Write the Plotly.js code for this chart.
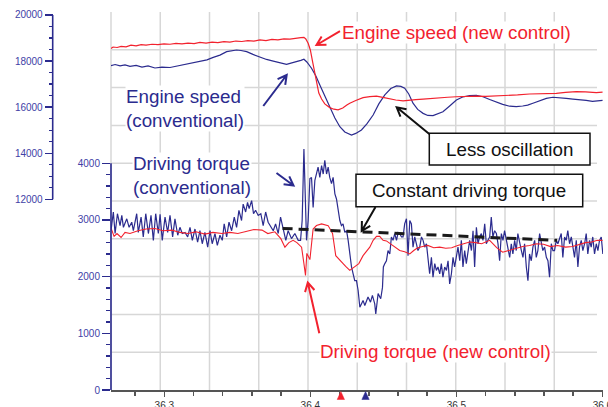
<!DOCTYPE html>
<html><head><meta charset="utf-8">
<script src="https://cdn.plot.ly/plotly-3.0.1.min.js"></script>
<style>html,body{margin:0;padding:0;background:#fff;overflow:hidden}#chart{width:608px;height:407px}</style>
</head><body><div id="chart"></div>
<script>
// ---------------- data ----------------
const speedNewTime = [36.2635,36.2649,36.2677,36.2704,36.2738,36.2772,36.2807,36.2841,36.2875,36.2916,36.2957,36.2998,36.3039,36.3080,36.3121,36.3162,36.3204,36.3244,36.3286,36.3327,36.3367,36.3408,36.3449,36.3490,36.3531,36.3572,36.3614,36.3655,36.3696,36.3737,36.3778,36.3819,36.3860,36.3901,36.3935,36.3956,36.3969,36.3985,36.4000,36.4017,36.4042,36.4058,36.4077,36.4099,36.4133,36.4161,36.4190,36.4222,36.4250,36.4270,36.4311,36.4361,36.4407,36.4453,36.4496,36.4544,36.4585,36.4635,36.4681,36.4722,36.4772,36.4817,36.4886,36.4940,36.5000,36.5064,36.5137,36.5200,36.5269,36.5342,36.5419,36.5501,36.5590,36.5684,36.5747,36.5821,36.5884,36.5958,36.6001];
const speedNew = [18550,18610,18590,18640,18620,18690,18660,18710,18690,18730,18710,18750,18730,18770,18750,18780,18760,18810,18780,18820,18800,18840,18820,18870,18850,18890,18870,18920,18890,18940,18920,18960,18950,19000,19020,19030,18960,18770,18480,17920,17010,16610,16350,16140,15980,15910,15880,15960,16090,16170,16290,16410,16460,16480,16420,16350,16310,16270,16310,16330,16350,16380,16400,16430,16450,16470,16480,16470,16480,16500,16530,16570,16580,16600,16640,16670,16660,16630,16650];

const speedConvTime = [36.2635,36.2663,36.2697,36.2731,36.2765,36.2807,36.2847,36.2889,36.2936,36.2984,36.3039,36.3094,36.3142,36.3190,36.3244,36.3292,36.3335,36.3381,36.3427,36.3456,36.3495,36.3525,36.3564,36.3607,36.3655,36.3700,36.3746,36.3791,36.3837,36.3873,36.3906,36.3935,36.3956,36.3976,36.4008,36.4038,36.4065,36.4099,36.4133,36.4168,36.4202,36.4236,36.4282,36.4311,36.4350,36.4387,36.4430,36.4469,36.4510,36.4551,36.4590,36.4620,36.4646,36.4674,36.4703,36.4735,36.4772,36.4804,36.4840,36.4872,36.4908,36.4954,36.5000,36.5043,36.5091,36.5137,36.5182,36.5228,36.5274,36.5317,36.5365,36.5410,36.5454,36.5488,36.5524,36.5570,36.5616,36.5661,36.5707,36.5752,36.5798,36.5843,36.5889,36.5932,36.5966,36.6001];
const speedConv = [17800,17850,17790,17830,17770,17810,17740,17790,17700,17740,17720,17790,17830,17900,17970,18050,18160,18260,18410,18440,18480,18460,18410,18290,18160,18070,18000,17920,17860,17920,17970,18030,18080,17960,17690,17350,16960,16480,15950,15530,15150,14920,14790,14860,15010,15270,15660,16140,16530,16810,16920,16900,16820,16570,16170,15900,15730,15640,15630,15700,15800,16050,16310,16440,16500,16510,16450,16330,16210,16120,16040,16020,16050,16090,16170,16290,16380,16430,16420,16380,16350,16330,16290,16250,16270,16290];

const torqueConvTime = [
36.2635,36.2651,36.2663,36.2679,36.2697,36.2709,36.2720,36.2743,36.2759,36.2777,
36.2788,36.2811,36.2822,36.2841,36.2856,36.2873,36.2891,36.2909,36.2925,36.2941,
36.2959,36.2971,36.2986,36.3005,36.3023,36.3039,36.3057,36.3073,36.3092,36.3107,
36.3123,36.3142,36.3160,36.3176,36.3192,36.3210,36.3228,36.3244,36.3260,36.3278,
36.3297,36.3313,36.3328,36.3347,36.3363,36.3381,36.3397,36.3410,36.3427,36.3443,
36.3461,36.3479,36.3495,36.3511,36.3529,36.3540,36.3557,36.3570,36.3581,36.3598,
36.3611,36.3625,36.3643,36.3661,36.3677,36.3694,36.3711,36.3730,36.3746,36.3762,
36.3780,36.3796,36.3814,
36.3832,36.3848,36.3871,36.3894,36.3917,36.3933,36.3944,36.3956,36.3964,36.3974,
36.3985,36.3997,36.4008,36.4019,36.4031,36.4042,36.4053,36.4065,36.4077,36.4088,
36.4099,36.4111,36.4122,36.4133,36.4145,36.4156,36.4168,36.4179,36.4190,36.4202,
36.4213,36.4224,36.4236,36.4248,36.4259,36.4270,36.4282,36.4293,36.4304,36.4316,
36.4327,
36.4339,36.4361,36.4373,36.4395,36.4412,36.4425,36.4441,36.4448,36.4464,36.4482,36.4494,36.4500,
36.4510,36.4521,36.4532,36.4544,36.4555,36.4566,36.4578,36.4590,36.4601,36.4612,
36.4624,36.4635,36.4646,36.4658,36.4669,36.4681,36.4692,36.4703,36.4715,36.4726,
36.4737,36.4749,36.4761,36.4772,36.4783,36.4795,36.4806,36.4817,36.4829,36.4840,
36.4852,36.4863,36.4874,36.4886,36.4897,36.4908,36.4920,36.4932,36.4943,36.4954,
36.4966,36.4977,36.4988,36.5000,36.5011,36.5023,36.5034,36.5045,36.5057,36.5068,
36.5079,36.5091,36.5103,36.5114,36.5125,36.5137,36.5148,36.5159,36.5171,36.5182,
36.5194,36.5205,36.5216,36.5228,36.5239,36.5250,36.5262,36.5274,36.5285,36.5296,
36.5308,36.5319,36.5330,36.5342,36.5353,36.5365,36.5376,36.5387,36.5399,36.5410,
36.5421,36.5433,36.5445,36.5456,36.5467,36.5479,36.5490,36.5501,36.5513,36.5524,
36.5536,36.5547,36.5558,36.5570,36.5581,36.5592,36.5604,36.5616,36.5627,36.5638,
36.5650,36.5661,36.5672,36.5684,36.5695,36.5707,36.5718,36.5729,36.5741,36.5752,
36.5763,36.5775,36.5787,36.5798,36.5809,36.5821,36.5832,36.5843,36.5855,36.5866,
36.5878,36.5889,36.5900,36.5912,36.5923,36.5934,36.5946,36.5958,36.5969,36.5980,
36.5992,36.6003];
const torqueConv = [
2810,3140,2760,3110,2900,3080,2870,3020,2870,2960,
2810,3110,2780,3050,2700,3110,2760,3080,2640,3110,
2760,3100,2640,3050,2780,3080,2700,3020,2730,2870,
2760,2780,2700,2870,2640,2840,2610,2810,2580,2780,
2520,2810,2580,2760,2550,2730,2640,2930,2700,2960,
2810,3050,2870,3170,2990,3280,3140,3310,3200,3340,
3110,3170,3080,3110,2900,3140,2960,2870,2810,2930,
2760,3050,2870,
2640,2810,2670,2760,2640,2640,2990,4250,3520,2640,
2990,3730,3750,3220,3700,3810,3930,3750,3960,3810,
4050,3810,3930,3750,3640,3750,3460,3370,3170,2990,
2900,2930,2780,2810,2640,2400,2170,2050,1930,1930,
1760,
1460,1580,1490,1640,1550,1670,1520,1340,1700,1610,1810,2170,
2230,2280,2460,2400,2700,2640,2760,2640,2780,2760,
2700,2700,2930,3020,2370,2990,2930,2520,2700,2580,
2460,2520,2700,2640,2520,2580,2280,2050,2340,1990,
2230,2110,2170,2050,2230,1990,2170,2110,2280,1870,
2050,2340,2170,2400,2520,2280,2640,2170,2460,2230,
2400,2640,2460,2810,2170,2870,2580,2700,2760,2640,
2930,2580,2640,2700,3050,2700,2810,2760,2580,2280,
2760,2640,2810,2640,2520,2340,2580,2400,2640,2460,
2760,2580,2460,2340,2580,2170,1930,2400,2280,2520,
2640,2340,2460,2760,2580,2460,2520,2340,2280,1990,
2580,2460,2460,2640,2580,2700,2760,2340,2700,2640,
2810,2580,2700,2520,2340,2640,2170,2520,2640,2460,
2580,2760,2400,2640,2520,2700,2400,2580,2460,2640,
2700,2400];

const torqueNewTime = [36.2636,36.2656,36.2676,36.2704,36.2731,36.2765,36.2820,36.2875,36.2936,36.2991,36.3053,36.3107,36.3162,36.3217,36.3278,36.3333,36.3395,36.3449,36.3504,36.3559,36.3614,36.3669,36.3709,36.3757,36.3798,36.3826,36.3853,36.3882,36.3908,36.3940,36.3951,36.3956,36.3967,36.3976,36.3997,36.4019,36.4042,36.4077,36.4122,36.4152,36.4174,36.4213,36.4242,36.4270,36.4304,36.4332,36.4361,36.4386,36.4407,36.4430,36.4453,36.4475,36.4498,36.4521,36.4544,36.4578,36.4612,36.4646,36.4681,36.4708,36.4735,36.4769,36.4804,36.4845,36.4886,36.4927,36.4968,36.5009,36.5050,36.5091,36.5132,36.5173,36.5228,36.5276,36.5317,36.5358,36.5399,36.5454,36.5501,36.5549,36.5597,36.5645,36.5693,36.5748,36.5796,36.5843,36.5884,36.5925,36.5966,36.6001];
const torqueNew = [2850,2710,2760,2690,2780,2760,2810,2840,2850,2810,2820,2780,2760,2790,2750,2780,2760,2780,2760,2800,2830,2820,2760,2790,2670,2520,2600,2640,2600,2520,2350,2230,2020,2410,2300,2840,2900,2930,2900,2760,2370,2250,2180,2110,2170,2230,2370,2460,2520,2640,2710,2710,2640,2630,2590,2530,2460,2440,2400,2460,2510,2530,2550,2510,2520,2500,2510,2550,2580,2610,2600,2580,2640,2510,2430,2460,2490,2530,2550,2580,2570,2530,2550,2520,2530,2570,2600,2610,2640,2640];

const constTorqueTime = [36.3810, 36.5690];
const constTorque = [2850, 2640];

const markerTimes = [36.4209, 36.4378];

const timeTicks = [36.3, 36.4, 36.5, 36.6];
const timeTickLabels = ['36.3', '36.4', '36.5', '36.6'];
const timeMinor = [36.28,36.32,36.34,36.36,36.38,36.42,36.44,36.46,36.48,36.52,36.54,36.56,36.58];
const torqueTicks = [0, 1000, 2000, 3000, 4000];
const torqueTickLabels = ['0', '1000', '2000', '3000', '4000'];
const torqueMinor = [200,400,600,800,1200,1400,1600,1800,2200,2400,2600,2800,3200,3400,3600,3800];
const speedTicks = [12000, 14000, 16000, 18000, 20000];
const speedTickLabels = ['12000', '14000', '16000', '18000', '20000'];
const speedMinor = [12500,13000,13500,14500,15000,15500,16500,17000,17500,18500,19000,19500];

// ---------------- geometry helpers (annotation placement) ----------------
const W = 608, H = 407, ML = 30, MR = 5, MT = 12, MB = 17;
const PW = W - ML - MR, PH = H - MT - MB;
const X = px => (px - ML) / PW;
const Y = py => (H - MB - py) / PH;

const RED = '#f2222e';
const NAVY = '#2b2b8e';
const TICKTXT = '#4141a6';
const FONT = '"Liberation Sans", Arial, sans-serif';

function arrowPath(x1, y1, x2, y2) {
  const a = Math.atan2(y2 - y1, x2 - x1), L = 10, s = 0.5;
  const hx1 = x2 - L * Math.cos(a - s), hy1 = y2 - L * Math.sin(a - s);
  const hx2 = x2 - L * Math.cos(a + s), hy2 = y2 - L * Math.sin(a + s);
  return 'M' + X(x1) + ',' + Y(y1) + 'L' + X(x2) + ',' + Y(y2) +
         'M' + X(hx1) + ',' + Y(hy1) + 'L' + X(x2) + ',' + Y(y2) + 'L' + X(hx2) + ',' + Y(hy2);
}

const shapes = [];
// grid (10 x 10 divisions of the frame)
for (let k = 0; k < 10; k++) {
  const gx = 111 + 49.25 * k;
  shapes.push({type:'line', xref:'paper', yref:'paper', x0:X(gx), x1:X(gx), y0:0, y1:1, layer:'below', line:{color:'#d7d7d7', width:1.5}});
}
for (let k = 1; k < 10; k++) {
  const gy = 12 + 37.8 * k;
  shapes.push({type:'line', xref:'paper', yref:'paper', x0:X(111), x1:X(597), y0:Y(gy), y1:Y(gy), layer:'below', line:{color:'#d7d7d7', width:1.5}});
}
// partial axis lines
shapes.push({type:'line', xref:'paper', yref:'y', x0:X(111), x1:X(111), y0:0, y1:4000, line:{color:NAVY, width:1.6}});
shapes.push({type:'line', xref:'paper', yref:'y2', x0:X(52.7), x1:X(52.7), y0:12000, y1:20000, line:{color:NAVY, width:1.6}});
// boxes
shapes.push({type:'rect', xref:'paper', yref:'paper', x0:X(429.3), x1:X(590), y0:Y(165), y1:Y(133.3), fillcolor:'#fff', line:{color:'#111', width:1.5}});
shapes.push({type:'rect', xref:'paper', yref:'paper', x0:X(356), x1:X(582.7), y0:Y(206.7), y1:Y(174.3), fillcolor:'#fff', line:{color:'#111', width:1.5}});
// arrows
const arrows = [
  [340, 31.2, 316.5, 45, RED],
  [263.3, 106, 286.7, 75, NAVY],
  [276.5, 173, 293.5, 185.5, NAVY],
  [429.3, 134, 396.7, 107.3, '#111'],
  [375.5, 207, 361.7, 231, '#111'],
  [319.3, 333.3, 307.8, 282.5, RED]
];
arrows.forEach(a => shapes.push({type:'path', xref:'paper', yref:'paper', path:arrowPath(a[0], a[1], a[2], a[3]), line:{color:a[4], width:2}}));

// event markers under the time axis (positioned on the time scale)
const markerColors = [RED, NAVY];
const halfW = 0.0025;
markerTimes.forEach((t, i) => shapes.push({
  type:'path', xref:'x', yref:'paper',
  path:'M' + (t - halfW) + ',' + Y(399.5) + 'L' + (t + halfW) + ',' + Y(399.5) + 'L' + t + ',' + Y(391.5) + 'Z',
  fillcolor:markerColors[i], line:{color:markerColors[i], width:0.5}
}));

const TS = 18.8;
const annotations = [
  {text:'Engine speed (new control)', x:X(340.5), y:Y(32), xanchor:'left', yanchor:'middle', font:{size:TS, color:RED, family:FONT}, bgcolor:'#fff', borderpad:0},
  {text:'Engine speed<br>(conventional)', x:X(125), y:Y(108.5), xanchor:'left', yanchor:'middle', align:'left', font:{size:TS, color:NAVY, family:FONT}, bgcolor:'#fff', borderpad:0},
  {text:'Driving torque<br>(conventional)', x:X(132), y:Y(175.5), xanchor:'left', yanchor:'middle', align:'left', font:{size:TS, color:NAVY, family:FONT}, bgcolor:'#fff', borderpad:0},
  {text:'Less oscillation', x:X(509.7), y:Y(149.3), xanchor:'center', yanchor:'middle', font:{size:TS, color:'#111', family:FONT}},
  {text:'Constant driving torque', x:X(469.3), y:Y(190.5), xanchor:'center', yanchor:'middle', font:{size:TS, color:'#111', family:FONT}},
  {text:'Driving torque (new control)', x:X(319.5), y:Y(351.5), xanchor:'left', yanchor:'middle', font:{size:TS, color:RED, family:FONT}, bgcolor:'#fff', borderpad:0}
].map(a => Object.assign({xref:'paper', yref:'paper', showarrow:false}, a));

const traces = [
  {x:speedConvTime, y:speedConv, xaxis:'x', yaxis:'y2', mode:'lines', line:{color:NAVY, width:1.2}, hoverinfo:'skip'},
  {x:speedNewTime, y:speedNew, xaxis:'x', yaxis:'y2', mode:'lines', line:{color:RED, width:1.2}, hoverinfo:'skip'},
  {x:torqueConvTime, y:torqueConv, xaxis:'x', yaxis:'y', mode:'lines', line:{color:NAVY, width:1.2}, hoverinfo:'skip'},
  {x:torqueNewTime, y:torqueNew, xaxis:'x', yaxis:'y', mode:'lines', line:{color:RED, width:1.1}, hoverinfo:'skip'},
  {x:constTorqueTime, y:constTorque, xaxis:'x', yaxis:'y', mode:'lines', line:{color:'#1a1a1a', width:3, dash:'10px,6px'}, hoverinfo:'skip'}
];

const layout = {
  width:W, height:H,
  margin:{l:ML, r:MR, t:MT, b:MB, pad:0},
  paper_bgcolor:'#fff', plot_bgcolor:'rgba(0,0,0,0)',
  showlegend:false,
  font:{family:FONT, size:10},
  xaxis:{domain:[X(111), 1], range:[36.2635, 36.6004], tickmode:'array', tickvals:timeTicks, ticktext:timeTickLabels,
    ticks:'outside', ticklen:5, tickwidth:1.5, tickcolor:'#555', showline:true, linecolor:'#555', linewidth:2,
    showgrid:false, zeroline:false, tickfont:{size:10, color:'#333', family:FONT}, automargin:false, ticklabeloverflow:'allow',
    minor:{tickmode:'array', tickvals:timeMinor, ticks:'outside', ticklen:4, tickwidth:1.5, tickcolor:'#555', showgrid:false}},
  yaxis:{domain:[0,1], range:[0, 6668], tickmode:'array', tickvals:torqueTicks, ticktext:torqueTickLabels, ticks:'outside', ticklen:8, tickwidth:1.3,
    tickcolor:NAVY, showline:false, showgrid:false, zeroline:false, tickfont:{size:10, color:TICKTXT, family:FONT}, automargin:false,
    minor:{tickmode:'array', tickvals:torqueMinor, ticks:'outside', ticklen:4, tickwidth:1.3, tickcolor:NAVY, showgrid:false}},
  yaxis2:{overlaying:'y', anchor:'free', position:X(52.7), side:'left', range:[3721, 20130], tickmode:'array', tickvals:speedTicks, ticktext:speedTickLabels,
    ticks:'outside', ticklen:8, tickwidth:1.3, tickcolor:NAVY, showline:false, showgrid:false, zeroline:false,
    tickfont:{size:10, color:TICKTXT, family:FONT}, automargin:false,
    minor:{tickmode:'array', tickvals:speedMinor, ticks:'outside', ticklen:4, tickwidth:1.3, tickcolor:NAVY, showgrid:false}},
  shapes:shapes,
  annotations:annotations
};

Plotly.newPlot('chart', traces, layout, {staticPlot:true, displayModeBar:false});
</script>
</body></html>
